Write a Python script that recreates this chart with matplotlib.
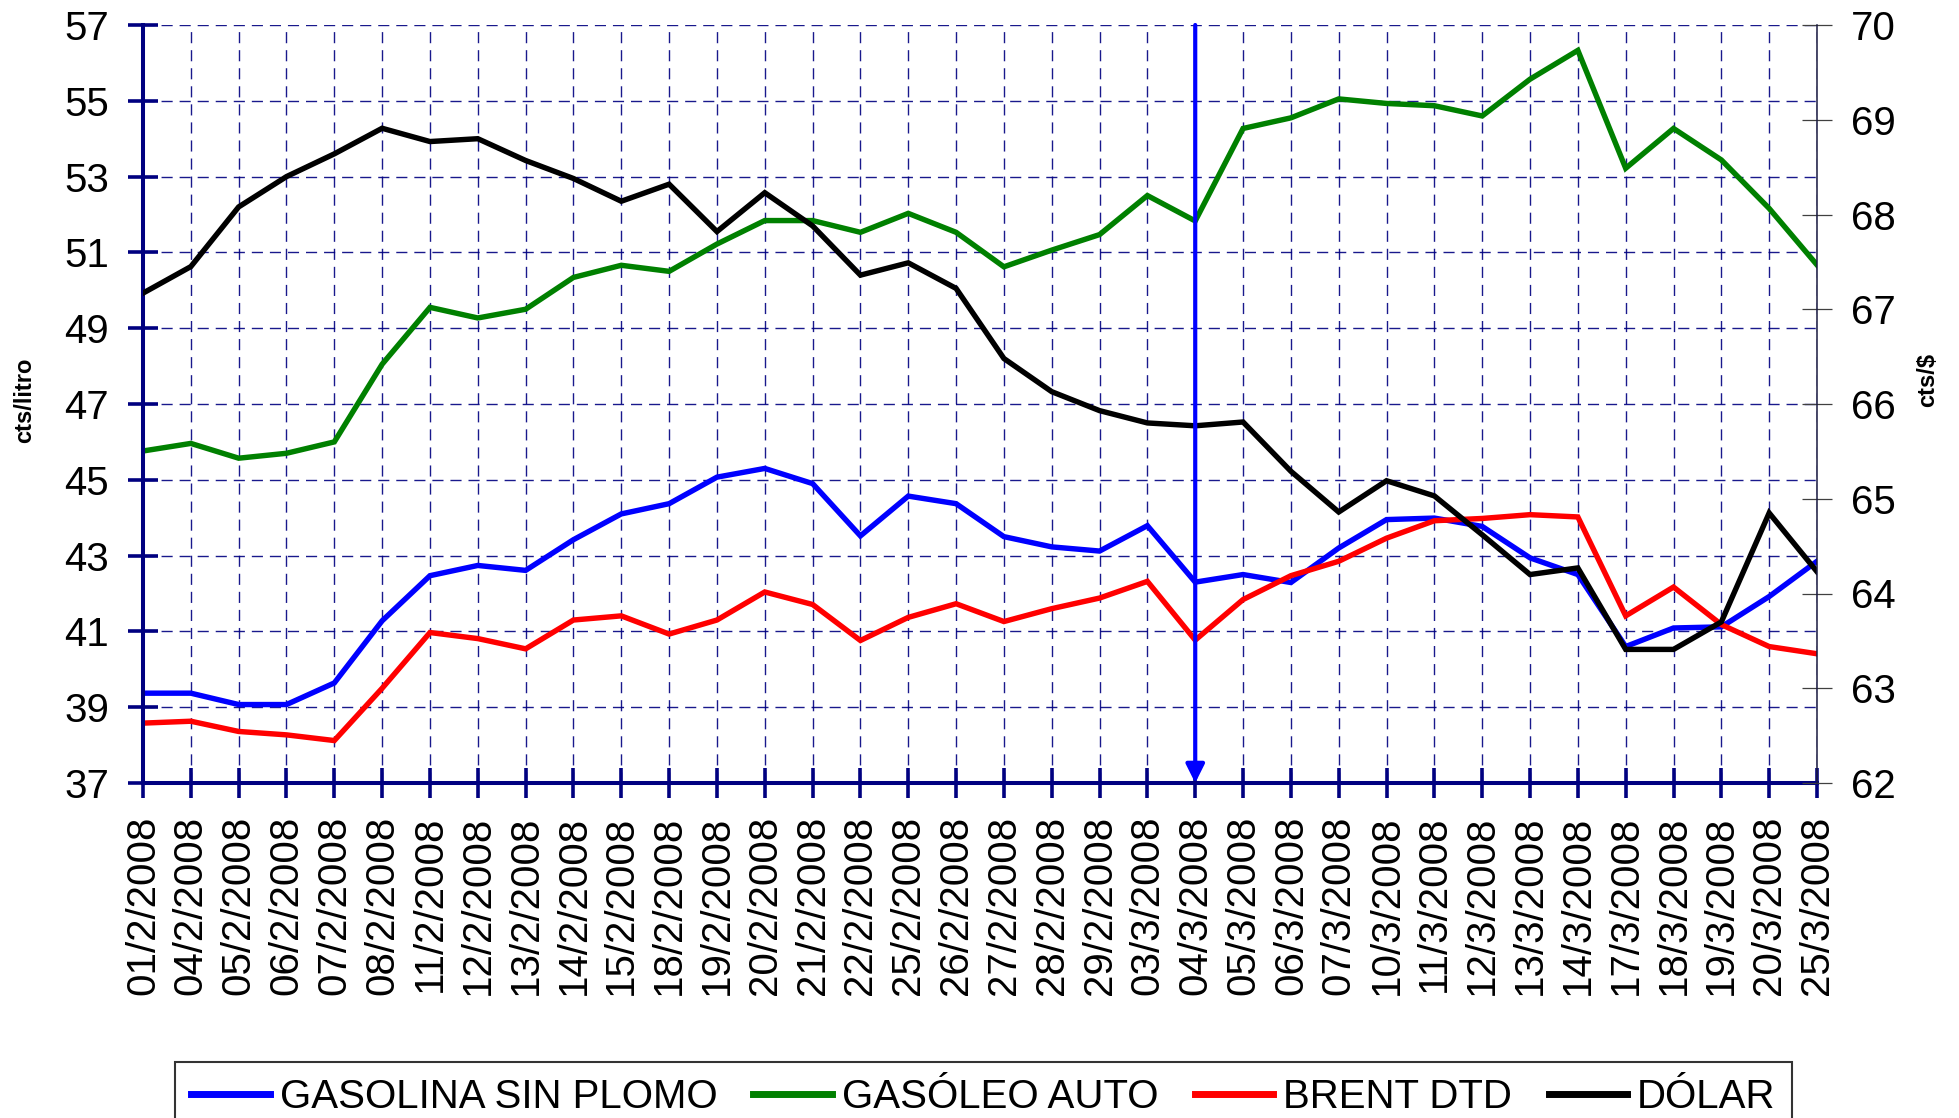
import matplotlib
matplotlib.use('Agg')
import matplotlib.pyplot as plt

plt.rcParams['font.family'] = ['Liberation Sans', 'DejaVu Sans']

# ---- datos ----
fechas = ['01/2/2008', '04/2/2008', '05/2/2008', '06/2/2008', '07/2/2008', '08/2/2008',
          '11/2/2008', '12/2/2008', '13/2/2008', '14/2/2008', '15/2/2008', '18/2/2008',
          '19/2/2008', '20/2/2008', '21/2/2008', '22/2/2008', '25/2/2008', '26/2/2008',
          '27/2/2008', '28/2/2008', '29/2/2008', '03/3/2008', '04/3/2008', '05/3/2008',
          '06/3/2008', '07/3/2008', '10/3/2008', '11/3/2008', '12/3/2008', '13/3/2008',
          '14/3/2008', '17/3/2008', '18/3/2008', '19/3/2008', '20/3/2008', '25/3/2008']

gasolina = [39.37, 39.37, 39.07, 39.07, 39.64, 41.28, 42.47, 42.74, 42.61, 43.42, 44.10, 44.37,
            45.07, 45.30, 44.90, 43.52, 44.57, 44.37, 43.50, 43.23, 43.12, 43.79, 42.30, 42.50,
            42.29, 43.20, 43.95, 43.99, 43.77, 42.94, 42.50, 40.60, 41.09, 41.12, 41.92, 42.85]

gasoleo = [45.76, 45.96, 45.57, 45.70, 46.00, 48.05, 49.55, 49.27, 49.50, 50.34, 50.66, 50.50,
           51.22, 51.84, 51.84, 51.53, 52.03, 51.53, 50.62, 51.06, 51.47, 52.50, 51.83, 54.27,
           54.55, 55.05, 54.93, 54.87, 54.60, 55.57, 56.33, 53.22, 54.27, 53.44, 52.16, 50.67]

brent = [38.58, 38.63, 38.36, 38.27, 38.12, 39.50, 40.97, 40.81, 40.54, 41.30, 41.41, 40.93,
         41.30, 42.04, 41.71, 40.76, 41.37, 41.73, 41.26, 41.60, 41.88, 42.32, 40.77, 41.84,
         42.47, 42.85, 43.46, 43.92, 43.98, 44.08, 44.02, 41.41, 42.17, 41.18, 40.60, 40.41]

dolar = [67.17, 67.45, 68.08, 68.40, 68.64, 68.91, 68.77, 68.80, 68.57, 68.38, 68.14, 68.32,
         67.82, 68.23, 67.88, 67.36, 67.49, 67.22, 66.48, 66.13, 65.93, 65.80, 65.77, 65.81,
         65.29, 64.86, 65.19, 65.03, 64.62, 64.20, 64.27, 63.41, 63.41, 63.70, 64.85, 64.23]

ticks_izq = [37, 39, 41, 43, 45, 47, 49, 51, 53, 55, 57]
ticks_der = [62, 63, 64, 65, 66, 67, 68, 69, 70]
fecha_marca = '04/3/2008'

# ---- figura ----
fig = plt.figure(figsize=(19.59, 11.18), dpi=100)
ax = fig.add_axes([143 / 1959, 1 - 783 / 1118, (1817 - 143) / 1959, (783 - 25) / 1118])
ax2 = ax.twinx()

x = list(range(len(fechas)))
navy = '#000080'
lw = 3.9

l1, = ax.plot(x, gasolina, color='#0000FF', lw=lw, label='GASOLINA SIN PLOMO', solid_joinstyle='miter')
l2, = ax.plot(x, gasoleo, color='#008000', lw=lw, label='GASÓLEO AUTO', solid_joinstyle='miter')
l3, = ax.plot(x, brent, color='#FF0000', lw=lw, label='BRENT DTD', solid_joinstyle='miter')
l4, = ax2.plot(x, dolar, color='black', lw=lw, label='DÓLAR', solid_joinstyle='miter')

ax.set_xlim(0, len(fechas) - 1)
ax.set_ylim(37, 57)
ax2.set_ylim(62, 70)

ax.set_xticks(x)
ax.set_xticklabels(fechas, rotation=90, fontsize=29)
ax.set_yticks(ticks_izq)
ax.tick_params(axis='y', labelsize=29, direction='inout', length=21, width=2.6, color=navy, pad=14)
ax.tick_params(axis='x', direction='inout', length=21, width=2.6, color=navy, pad=13)
ax2.set_yticks(ticks_der)
ax2.tick_params(axis='y', labelsize=29, direction='inout', length=21, width=0.9, color='#404040', pad=14)

# rejilla discontinua
ax.grid(True, color=navy, linestyle=(0, (8, 5)), linewidth=1, alpha=0.9)
ax.set_axisbelow(True)

# ejes
for s in ['top', 'right']:
    ax.spines[s].set_visible(False)
for s in ['top', 'left', 'bottom']:
    ax2.spines[s].set_visible(False)
ax.spines['left'].set_color(navy)
ax.spines['left'].set_linewidth(2.9)
ax.spines['bottom'].set_color(navy)
ax.spines['bottom'].set_linewidth(2.9)
ax2.spines['right'].set_color('#1a1a40')
ax2.spines['right'].set_linewidth(1.1)

# flecha vertical
xm = fechas.index(fecha_marca)
ax2.annotate('', xy=(xm, 62), xytext=(xm, 70),
             arrowprops=dict(arrowstyle='-|>,head_length=0.8,head_width=0.4', color='#0000FF',
                             lw=3, mutation_scale=14, shrinkA=0, shrinkB=0),
             annotation_clip=False)

# etiquetas de ejes
fig.text(25 / 1959, 1 - 400 / 1118, 'cts/litro', rotation=90, ha='center', va='center',
         fontsize=17, fontweight='bold')
fig.text(1928 / 1959, 1 - 380 / 1118, 'cts/$', rotation=90, ha='center', va='center',
         fontsize=17, fontweight='bold')

# leyenda
leg = ax2.legend(handles=[l1, l2, l3, l4], loc='upper center', bbox_to_anchor=(0.502, -0.368),
                 ncol=4, fontsize=29, frameon=True, fancybox=False, edgecolor='black',
                 borderpad=0.4, handlelength=1.95, handletextpad=0.25, columnspacing=0.9,
                 borderaxespad=0)
leg.get_frame().set_linewidth(1.5)
for h in leg.legend_handles:
    h.set_linewidth(5)

fig.savefig('out.png', dpi=100, facecolor='white')
